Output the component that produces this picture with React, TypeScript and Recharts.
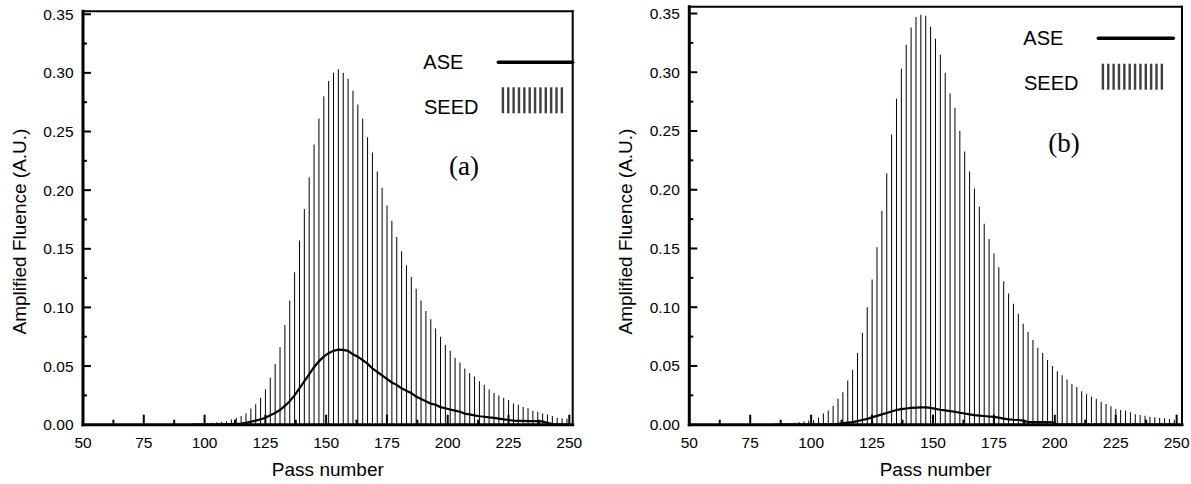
import React from 'react';
import { ComposedChart, Bar, Line, XAxis, YAxis, Legend } from 'recharts';

// ---------- data ----------
const passesA = [95, 97, 99, 101, 103, 105, 107, 109, 111, 113, 115, 117, 119, 121, 123, 125, 127, 129, 131, 133, 135, 137, 139, 141, 143, 145, 147, 149, 151, 153, 155, 157, 159, 161, 163, 165, 167, 169, 171, 173, 175, 177, 179, 181, 183, 185, 187, 189, 191, 193, 195, 197, 199, 201, 203, 205, 207, 209, 211, 213, 215, 217, 219, 221, 223, 225, 227, 229, 231, 233, 235, 237, 239, 241, 243, 245, 247, 249];
const seedA = [0.0005, 0.0007, 0.0009, 0.0012, 0.0016, 0.002, 0.0025, 0.003, 0.0044, 0.006, 0.0075, 0.0096, 0.0138, 0.0175, 0.023, 0.03, 0.04, 0.052, 0.066, 0.085, 0.106, 0.13, 0.157, 0.184, 0.211, 0.239, 0.261, 0.28, 0.293, 0.3, 0.303, 0.3, 0.295, 0.285, 0.273, 0.261, 0.245, 0.232, 0.216, 0.202, 0.187, 0.174, 0.16, 0.148, 0.136, 0.126, 0.116, 0.106, 0.097, 0.09, 0.082, 0.075, 0.068, 0.063, 0.057, 0.053, 0.048, 0.044, 0.041, 0.037, 0.034, 0.03, 0.027, 0.025, 0.023, 0.021, 0.018, 0.017, 0.015, 0.014, 0.012, 0.011, 0.0095, 0.0087, 0.0075, 0.006, 0.0053, 0.005];
const aseA = [0, 0, 0, 0, 0, 0, 0.0002, 0.0004, 0.0006, 0.0008, 0.001, 0.0015, 0.0025, 0.0035, 0.0045, 0.006, 0.008, 0.01, 0.0125, 0.016, 0.02, 0.025, 0.031, 0.037, 0.043, 0.049, 0.054, 0.058, 0.061, 0.063, 0.064, 0.0638, 0.063, 0.06, 0.058, 0.055, 0.052, 0.048, 0.045, 0.042, 0.039, 0.036, 0.034, 0.031, 0.029, 0.027, 0.024, 0.022, 0.02, 0.018, 0.017, 0.015, 0.014, 0.013, 0.012, 0.011, 0.0095, 0.0088, 0.008, 0.0072, 0.0068, 0.0062, 0.0058, 0.0052, 0.0045, 0.004, 0.0035, 0.0033, 0.0032, 0.0031, 0.003, 0.003, 0.0028, 0.0015, 0.0005, 0, 0, 0];

const passesB = [85, 87, 89, 91, 93, 95, 97, 99, 101, 103, 105, 107, 109, 111, 113, 115, 117, 119, 121, 123, 125, 127, 129, 131, 133, 135, 137, 139, 141, 143, 145, 147, 149, 151, 153, 155, 157, 159, 161, 163, 165, 167, 169, 171, 173, 175, 177, 179, 181, 183, 185, 187, 189, 191, 193, 195, 197, 199, 201, 203, 205, 207, 209, 211, 213, 215, 217, 219, 221, 223, 225, 227, 229, 231, 233, 235, 237, 239, 241, 243, 245, 247, 249];
const seedB = [0.0003, 0.0004, 0.0006, 0.0011, 0.0017, 0.0023, 0.0028, 0.0035, 0.004, 0.0062, 0.0095, 0.012, 0.016, 0.022, 0.0276, 0.0376, 0.0467, 0.061, 0.078, 0.1, 0.1235, 0.151, 0.182, 0.214, 0.247, 0.2775, 0.303, 0.3235, 0.338, 0.347, 0.349, 0.348, 0.3387, 0.3285, 0.315, 0.2995, 0.282, 0.2695, 0.25, 0.2325, 0.2155, 0.201, 0.1856, 0.171, 0.158, 0.1457, 0.134, 0.122, 0.1116, 0.103, 0.0945, 0.086, 0.079, 0.072, 0.0655, 0.061, 0.055, 0.05, 0.0455, 0.042, 0.0384, 0.0347, 0.032, 0.0285, 0.026, 0.024, 0.022, 0.0196, 0.0177, 0.0156, 0.0134, 0.0125, 0.012, 0.0105, 0.009, 0.0082, 0.0077, 0.0068, 0.0063, 0.0057, 0.0054, 0.0048, 0.0042];
const aseB = [0, 0, 0, 0, 0, 0, 0, 0, 0, 0, 0, 0.0003, 0.0005, 0.0008, 0.0012, 0.0017, 0.0022, 0.003, 0.004, 0.005, 0.0062, 0.0075, 0.0088, 0.01, 0.0113, 0.0125, 0.0133, 0.0138, 0.0143, 0.0146, 0.0148, 0.0147, 0.0143, 0.0135, 0.0127, 0.0122, 0.0116, 0.011, 0.0102, 0.0095, 0.0088, 0.0082, 0.0078, 0.0074, 0.007, 0.0066, 0.006, 0.0052, 0.0045, 0.0042, 0.004, 0.0035, 0.0023, 0.0022, 0.0022, 0.0022, 0.0022, 0.0021, 0, 0, 0, 0, 0, 0, 0, 0, 0, 0, 0, 0, 0, 0, 0, 0, 0, 0, 0, 0, 0, 0, 0, 0, 0];

const xTicks = [50, 62.5, 75, 87.5, 100, 112.5, 125, 137.5, 150, 162.5, 175, 187.5, 200, 212.5, 225, 237.5, 250];
const yTicks = [0, 0.025, 0.05, 0.075, 0.1, 0.125, 0.15, 0.175, 0.2, 0.225, 0.25, 0.275, 0.3, 0.325, 0.35];
const yTickLabels = ['0.00', '', '0.05', '', '0.10', '', '0.15', '', '0.20', '', '0.25', '', '0.30', '', '0.35'];

const seriesNames = ['ASE', 'SEED'];
const xTitle = 'Pass number';
const yTitle = 'Amplified Fluence (A.U.)';

const SANS = '"Liberation Sans", Arial, sans-serif';
const SERIF = '"Liberation Serif", "Times New Roman", serif';

const buildRows = (passes: number[], seed: number[], ase: number[]) =>
  passes.map((p, i) => ({ pass: p, seed: seed[i], ase: ase[i] }));

const XTick = (props: any) => {
  const { x, y, payload } = props;
  const v = payload.value;
  const major = Math.abs(v / 25 - Math.round(v / 25)) < 1e-6;
  const len = major ? 10 : 5;
  return (
    <g>
      {v > 50 && <line x1={x} x2={x} y1={y} y2={y - len} stroke="#000" strokeWidth={2} />}
      {major && (
        <text x={x} y={y + 23} textAnchor="middle" fontFamily={SANS} fontSize={15.5} fill="#000">
          {String(v)}
        </text>
      )}
    </g>
  );
};

const YTick = (props: any) => {
  const { x, y, payload, index } = props;
  const label = yTickLabels[index] ?? '';
  const major = label !== '';
  const len = major ? 8 : 4;
  return (
    <g>
      {payload.value > 0 && <line x1={x} x2={x + len} y1={y} y2={y} stroke="#000" strokeWidth={2} />}
      {major && (
        <text x={x - 9.5} y={y + 5.5} textAnchor="end" fontFamily={SANS} fontSize={15.5} fill="#000">
          {label}
        </text>
      )}
    </g>
  );
};

type PanelProps = {
  left: number;
  width: number;
  plotLeft: number;
  plotRight: number;
  plotTop: number;
  plotBottom: number;
  xMax: number;
  yMax: number;
  rows: any[];
  letter: string;
  aseY: number;
  aseLineEnd: number;
  seedY: number;
  letterY: number;
};

const Panel = (p: PanelProps) => {
  const H = 484;
  const stripes = Array.from({ length: 12 }, (_, i) => i);
  const overlay = () => (
    <svg width={p.width} height={H} style={{ position: 'absolute', left: 0, top: 0, overflow: 'visible' }}>
      <text x={423.3} y={p.aseY + 6.8} fontFamily={SANS} fontSize={20} fill="#000">{seriesNames[0]}</text>
      <line x1={498.3} x2={p.aseLineEnd} y1={p.aseY} y2={p.aseY} stroke="#000" strokeWidth={3.5} strokeLinecap="round" />
      <text x={424} y={p.seedY + 13.5} fontFamily={SANS} fontSize={20} fill="#000">{seriesNames[1]}</text>
      {stripes.map((i) => (
        <rect key={i} x={501.7 + i * 5.36} y={p.seedY - 13} width={2.4} height={26} fill="#404040" />
      ))}
      <text x={464} y={p.letterY} textAnchor="middle" fontFamily={SERIF} fontSize={27} fill="#000">{p.letter}</text>
      <text x={(p.plotLeft + p.plotRight) / 2} y={476} textAnchor="middle" fontFamily={SANS} fontSize={19} fill="#000">{xTitle}</text>
      <text
        transform={`translate(${p.plotLeft - 57}, 231.5) rotate(-90)`}
        textAnchor="middle"
        fontFamily={SANS}
        fontSize={19}
        fill="#000"
      >
        {yTitle}
      </text>
    </svg>
  );
  return (
    <div style={{ position: 'absolute', left: p.left, top: 0, width: p.width, height: H }}>
      <ComposedChart
        width={p.width}
        height={H}
        data={p.rows}
        margin={{ top: p.plotTop - 1, left: p.plotLeft - 1, right: p.width - p.plotRight - 1, bottom: H - p.plotBottom - 1 }}
        barGap={0}
        barCategoryGap={0}
      >
        <XAxis
          dataKey="pass"
          type="number"
          domain={[50, p.xMax]}
          ticks={xTicks}
          interval={0}
          height={1}
          tickSize={0}
          tickMargin={0}
          tickLine={false}
          axisLine={{ stroke: '#000', strokeWidth: 3, strokeLinecap: 'square' }}
          tick={<XTick />}
          allowDataOverflow
        />
        <XAxis
          xAxisId="top"
          orientation="top"
          dataKey="pass"
          type="number"
          domain={[50, p.xMax]}
          height={1}
          tick={false}
          tickLine={false}
          axisLine={{ stroke: '#000', strokeWidth: 2, strokeLinecap: 'square' }}
        />
        <YAxis
          type="number"
          domain={[0, p.yMax]}
          ticks={yTicks}
          interval={0}
          width={1}
          tickSize={0}
          tickMargin={0}
          tickLine={false}
          axisLine={{ stroke: '#000', strokeWidth: 3, strokeLinecap: 'square' }}
          tick={<YTick />}
          allowDataOverflow
        />
        <YAxis
          yAxisId="right"
          orientation="right"
          type="number"
          domain={[0, p.yMax]}
          width={1}
          tick={false}
          tickLine={false}
          axisLine={{ stroke: '#000', strokeWidth: 2, strokeLinecap: 'square' }}
        />
        <Bar dataKey="seed" name="SEED" fill="#000" barSize={1} isAnimationActive={false} />
        <Line
          dataKey="ase"
          name="ASE"
          type="linear"
          stroke="#000"
          strokeWidth={2.2}
          dot={false}
          activeDot={false}
          isAnimationActive={false}
        />
        <Legend
          layout="horizontal"
          verticalAlign="middle"
          align="center"
          content={overlay}
          wrapperStyle={{ position: 'absolute', left: 0, top: 0, width: p.width, height: H, pointerEvents: 'none' }}
        />
      </ComposedChart>
    </div>
  );
};

export default function App() {
  const rowsA = buildRows(passesA, seedA, aseA);
  const rowsB = buildRows(passesB, seedB, aseB);
  return (
    <div style={{ position: 'absolute', left: 0, top: 0, width: 1191, height: 484, background: '#fff' }}>
      <Panel
        left={0}
        width={600}
        plotLeft={83}
        plotRight={572.7}
        plotTop={11.3}
        plotBottom={424.7}
        xMax={251.4}
        yMax={0.3525}
        rows={rowsA}
        letter="(a)"
        aseY={62.3}
        aseLineEnd={572.7}
        seedY={100.3}
        letterY={175}
      />
      <Panel
        left={600}
        width={591}
        plotLeft={89.3}
        plotRight={582}
        plotTop={6.7}
        plotBottom={424.7}
        xMax={252.2}
        yMax={0.3558}
        rows={rowsB}
        letter="(b)"
        aseY={38.3}
        aseLineEnd={573.3}
        seedY={76.7}
        letterY={151.7}
      />
    </div>
  );
}
